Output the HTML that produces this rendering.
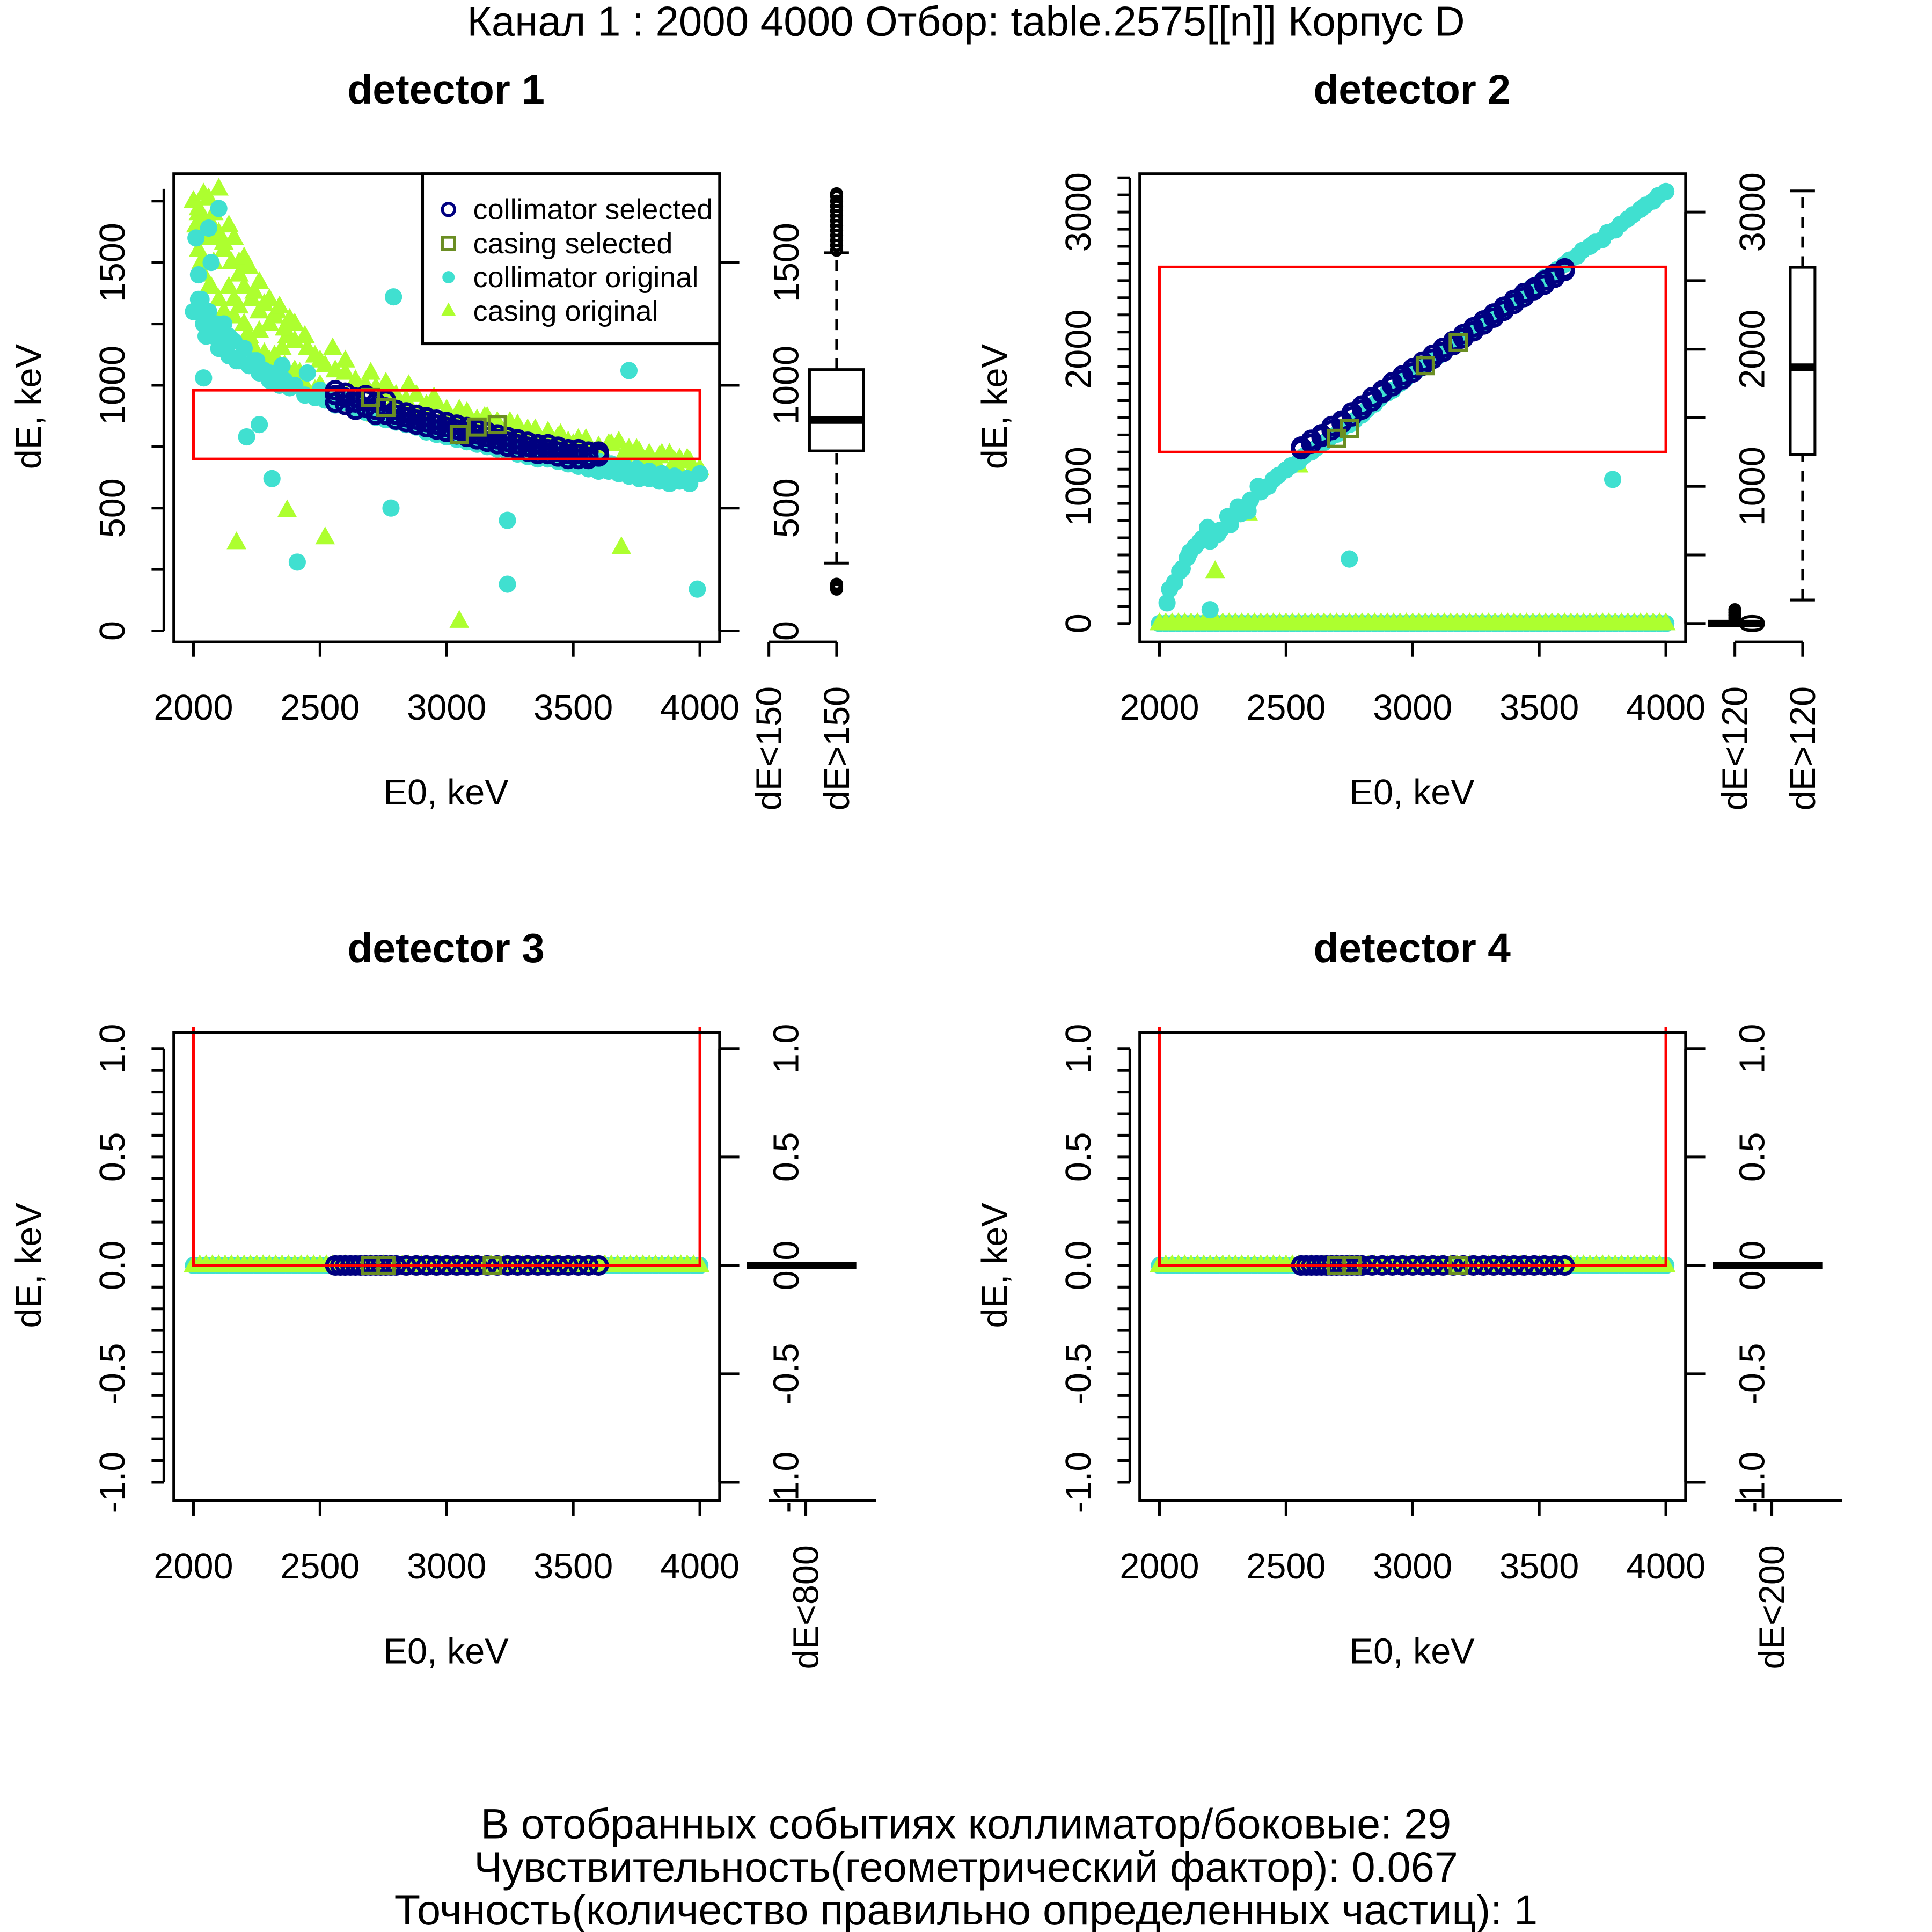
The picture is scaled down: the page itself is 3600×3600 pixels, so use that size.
<!DOCTYPE html>
<html><head><meta charset="utf-8"><style>
html,body{margin:0;padding:0;background:#fff}
svg{display:block}
text{font-family:"Liberation Sans","DejaVu Sans",sans-serif;fill:#000}
</style></head><body>
<svg id="c" width="3600" height="3600" viewBox="0 0 1568 1568" xmlns="http://www.w3.org/2000/svg"></svg>
<script>
// ---- data ----
const d1_casing_x=[2000,2010,2020,2040,2060,2080,2100,2120,2150,2180,2200,2230,2260,2300,2330,2370,2400,2450,2500,2550,2600,2650,2700,2750,2800,2850,2900,2950,3000,3050,3100,3150,3200,3250,3300,3350,3400,3450,3500,3550,3600,3650,3700,3750,3800,3850,3900,3950,4000,2030,2070,2110,2160,2210,2280,2350,2420,2500,2600,2700,2800,2900,3000,3100,3200,3300,3400,3500,3600,3700,3800,3900,3980,2170,2370,2520,3050,3690];
const d1_casing_y=[1750,1650,1700,1780,1600,1700,1800,1550,1500,1450,1400,1350,1300,1250,1300,1200,1250,1150,1100,1150,1050,1000,1050,980,950,1000,900,950,880,900,850,870,830,850,800,820,780,800,760,780,740,760,720,740,700,720,690,700,660,1500,1400,1600,1350,1200,1100,1150,1050,1000,950,900,880,850,820,800,780,760,740,720,700,690,680,670,640,360,490,380,40,340];
const band_x=[2020,2040,2060,2080,2100,2120,2140,2160,2180,2200,2220,2240,2260,2280,2300,2320,2340,2360,2380,2400,2440,2480,2520,2560,2600,2640,2680,2720,2760,2800,2840,2880,2920,2960,3000,3040,3080,3120,3160,3200,3240,3280,3320,3360,3400,3440,3480,3520,3560,3600,3640,3680,3720,3760,3800,3840,3880,3920,3960];
const d1_casing2_y=[1720,1680,1760,1640,1620,1580,1650,1600,1500,1520,1480,1380,1420,1330,1350,1280,1320,1230,1270,1180,1200,1120,1080,1060,1100,1020,1000,990,1010,960,940,960,920,930,900,880,890,860,870,850,830,840,820,800,810,790,770,780,760,750,760,770,740,730,720,710,720,700,690];
const d1_casing3_y=[1550,1450,1400,1500,1350,1300,1400,1280,1320,1250,1200,1150,1220,1130,1100,1120,1060,1080,1040,1060,1000,980,960,940,950,920,900,880,890,860,850,840,830,820,810,800,790,780,770,760,750,740,730,720,720,710,700,700,690,690,680,680,670,670,660,660,650,650,640];
const d1_coll_x=[2000,2010,2020,2030,2050,2070,2090,2110,2140,2170,2200,2250,2300,2350,2400,2450,2500,2550,2600,2650,2700,2750,2800,2850,2900,2950,3000,3050,3100,3150,3200,3250,3300,3350,3400,3450,3500,3550,3600,3650,3700,3750,3800,3850,3900,3950,4000,2040,2100,2210,2260,2310,2410,2790,2780,3240,3240,3720,3990,2060];
const d1_coll_y=[1300,1600,1450,1350,1200,1500,1250,1150,1200,1100,1150,1100,1050,1080,1000,1050,980,960,950,920,900,880,870,850,830,820,800,790,780,770,760,750,740,730,720,720,710,700,690,680,670,660,650,640,630,620,640,1030,1720,790,840,620,280,1360,500,450,190,1060,170,1640];
const d1_coll2_y=[1350,1250,1300,1200,1150,1250,1120,1180,1100,1150,1080,1100,1050,1060,1020,1040,1000,1020,990,1000,960,950,940,920,930,900,890,870,860,850,840,830,810,800,790,780,770,760,750,740,730,720,710,700,700,690,680,670,660,650,650,640,630,620,620,610,600,610,600];
const d1_sel_x=[2560,2600,2640,2680,2720,2760,2800,2840,2880,2920,2960,3000,3040,3080,3120,3160,3200,3240,3280,3320,3360,3400,3440,3480,3520,3560,3600];
const d1_sel_y=[960,950,930,940,900,910,880,870,860,850,840,830,820,810,800,790,780,770,760,750,740,740,730,720,720,710,720];
const d1_sel2_y=[930,920,900,910,880,880,860,850,840,830,820,810,800,790,780,770,760,750,740,730,720,720,710,700,700,700,710];
const d1_sel3_y=[980,970,950,960,930,940,900,890,880,870,860,850,840,830,820,810,800,790,780,770,760,760,750,740,740,730,730];
const d1_cas_sel_x=[2700,2760,3050,3120,3200];
const d1_cas_sel_y=[950,910,800,830,840];
const d1_box=[276,733,858,1064,1540];
const d1_box_out=[1550,1570,1590,1610,1630,1650,1670,1690,1710,1730,1750,1770,1780,170,180,190];

const d2_coll_x=[2030,2060,2090,2110,2140,2170,2200,2240,2280,2320,2360,2400,2450,2500,2550,2600,2650,2700,2750,2800,2850,2900,2950,3000,3050,3100,3150,3200,3250,3300,3350,3400,3450,3500,3550,3600,3650,3700,3750,3800,3850,3900,3950,4000,2200,2750,3790];
const d2_coll_y=[150,300,400,480,560,620,600,680,720,800,900,960,1050,1120,1180,1250,1320,1380,1450,1520,1600,1680,1750,1820,1880,1950,2020,2080,2150,2220,2280,2350,2420,2480,2550,2620,2680,2750,2800,2870,2950,3020,3080,3150,100,470,1050];
const d2_coll2_x=[2040,2080,2120,2160,2190,2230,2270,2310,2350,2390,2430,2470,2520,2570,2620,2670,2720,2770,2820,2870,2920,2970,3020,3070,3120,3170,3220,3270,3320,3370,3420,3470,3520,3570,3620,3670,3720,3770,3820,3870,3920,3970];
const d2_coll2_y=[250,380,520,600,700,650,780,850,820,1000,1000,1080,1150,1220,1280,1350,1420,1480,1560,1640,1700,1780,1850,1920,1990,2050,2120,2180,2250,2320,2380,2450,2520,2580,2650,2720,2780,2850,2910,2980,3050,3120];
const d2_casing_x=[2220,2350,2550];
const d2_casing_y=[380,800,1150];
const d2_sel_x=[2560,2600,2640,2680,2720,2760,2800,2840,2880,2920,2960,3000,3040,3080,3120,3160,3200,3240,3280,3320,3360,3400,3440,3480,3520,3560,3600];
const d2_sel_y=[1270,1310,1360,1410,1460,1510,1560,1620,1680,1730,1780,1830,1880,1930,1980,2030,2080,2130,2180,2230,2280,2330,2380,2430,2470,2520,2570];
const d2_sel2_y=[1290,1340,1380,1440,1480,1540,1590,1650,1700,1760,1810,1860,1910,1960,2010,2060,2110,2160,2210,2260,2310,2360,2410,2450,2500,2550,2590];
const d2_cas_sel_x=[2700,2750,3050,3180];
const d2_cas_sel_y=[1350,1420,1880,2050];
const d2_box=[171,1231,1869,2597,3154];
const d2_lowbox_out=[20,40,60,80,100];

const zero_x=[2000,2050,2100,2150,2200,2250,2300,2350,2400,2450,2500,2550,2600,2650,2700,2750,2800,2850,2900,2950,3000,3050,3100,3150,3200,3250,3300,3350,3400,3450,3500,3550,3600,3650,3700,3750,3800,3850,3900,3950,4000];
const zero2_x=[2025,2075,2125,2175,2225,2275,2325,2375,2425,2475,2525,2575,2625,2675,2725,2775,2825,2875,2925,2975,3025,3075,3125,3175,3225,3275,3325,3375,3425,3475,3525,3575,3625,3675,3725,3775,3825,3875,3925,3975];
const sel_zero_x=[2560,2580,2600,2620,2640,2660,2680,2700,2720,2740,2760,2780,2800,2840,2880,2920,2960,3000,3040,3080,3120,3160,3200,3240,3280,3320,3360,3400,3440,3480,3520,3560,3600];
const cas_sel_zero_x=[2700,2760,3180];
const xticks=[2000,2500,3000,3500,4000];

const NS='http://www.w3.org/2000/svg';
const svg=document.getElementById('c');
function mk(tag,attrs,parent){const e=document.createElementNS(NS,tag);for(const k in attrs)e.setAttribute(k,attrs[k]);(parent||svg).appendChild(e);return e;}
function txt(s,x,y,size,opts,parent){const e=mk('text',Object.assign({x:x,y:y,'font-size':size,'text-anchor':'middle'},opts||{}),parent);e.textContent=s;return e;}

let el;
el=txt('Канал 1 : 2000 4000 Отбор: table.2575[[n]] Корпус D',784,29,34);



const COL={sel:'#000080',cas:'#6B8E23',coll:'#40E0D0',caso:'#ADFF2F'};

function drawPoints(g,xs,ys,X,Y,kind){
  for(let i=0;i<xs.length;i++){
    const px=X(xs[i]),py=Y(ys[i]);
    let p;
    if(kind==='caso'){p=mk('polygon',{points:`${px},${py-9} ${px-8},${py+5.5} ${px+8},${py+5.5}`,fill:COL.caso},g);}
    else if(kind==='coll'){p=mk('circle',{cx:px,cy:py,r:7,fill:COL.coll},g);}
    else if(kind==='sel'){p=mk('circle',{cx:px,cy:py,r:6.8,fill:'none',stroke:COL.sel,'stroke-width':3},g);}
    else {p=mk('rect',{x:px-6.5,y:py-6.5,width:13,height:13,fill:'none',stroke:COL.cas,'stroke-width':2.6},g);}
    
    
  }
}

function panel(cfg){
  const g=mk('g',{});
  
  
  const L=cfg.ox+141,R=cfg.ox+584,T=cfg.oy+141,B=cfg.oy+521;
  const X=v=>cfg.ox+157+(v-2000)/2000*411;
  const Y=v=>cfg.oy+cfg.y0-(v-cfg.ymin)*cfg.k;
  let t=txt(cfg.title,cfg.ox+362,cfg.oy+84,33.5,{'font-weight':'bold'},g);
  
  
  const pts=mk('g',{},g);
  
  
  cfg.series.forEach(s=>drawPoints(pts,s[0],s[1],X,Y,s[2]));
  const rr=mk('path',{d:cfg.redPath(X,Y),fill:'none',stroke:'#ff0000','stroke-width':2.2},g);
  
  
  const bx=mk('rect',{x:L,y:T,width:R-L,height:B-T,fill:'none',stroke:'#000','stroke-width':2.2},g);
  
  
  const xa=mk('g',{},g);
  
  
  mk('line',{x1:X(2000),x2:X(4000),y1:B,y2:B,stroke:'#000','stroke-width':2.2},xa);
  xticks.forEach(v=>{mk('line',{x1:X(v),x2:X(v),y1:B,y2:B+12,stroke:'#000','stroke-width':2.2},xa);
    const tl=txt(String(v),X(v),cfg.oy+584,29,{},xa);
    
    });
  t=txt('E0, keV',cfg.ox+362,cfg.oy+653,29,{},g);
  
  
  t=txt('dE, keV',cfg.ox+33,cfg.oy+330,29,{transform:`rotate(-90 ${cfg.ox+33} ${cfg.oy+330})`},g);
  
  
  const ya=mk('g',{},g);
  
  
  const ylo=cfg.ymin;
  mk('line',{x1:L-8,x2:L-8,y1:Y(ylo),y2:Y(cfg.minorTop),stroke:'#000','stroke-width':2.2},ya);
  for(let i=0;;i++){const v=ylo+i*cfg.minor; if(v>cfg.minorTop+1e-9)break;
    mk('line',{x1:L-8,x2:L-18,y1:Y(v),y2:Y(v),stroke:'#000','stroke-width':2.2},ya);}
  cfg.labels.forEach(v=>{const yy=Y(v);
    const tl=txt(cfg.fmt(v),cfg.ox+101,yy,29,{transform:`rotate(-90 ${cfg.ox+101} ${yy})`},ya);
    
    });
  const ra=mk('g',{},g);
  
  
  mk('line',{x1:R,x2:R,y1:Y(ylo),y2:Y(cfg.rightTop),stroke:'#000','stroke-width':2.2},ra);
  cfg.rticks.forEach(v=>mk('line',{x1:R,x2:R+16,y1:Y(v),y2:Y(v),stroke:'#000','stroke-width':2.2},ra));
  cfg.labels.forEach(v=>{const yy=Y(v);
    const tl=txt(cfg.fmt(v),cfg.ox+648,yy,29,{transform:`rotate(-90 ${cfg.ox+648} ${yy})`},ra);
    
    });
  const bp=mk('g',{},g);
  
  
  cfg.side(bp,Y,cfg.ox,cfg.oy);
  return {X,Y,g};
}

function boxplot(g,cx,hw,st,Y,outs){
  mk('line',{x1:cx,x2:cx,y1:Y(st[0]),y2:Y(st[1]),stroke:'#000','stroke-width':2.2,'stroke-dasharray':'9,7'},g);
  mk('line',{x1:cx,x2:cx,y1:Y(st[3]),y2:Y(st[4]),stroke:'#000','stroke-width':2.2,'stroke-dasharray':'9,7'},g);
  mk('line',{x1:cx-10,x2:cx+10,y1:Y(st[0]),y2:Y(st[0]),stroke:'#000','stroke-width':2.2},g);
  mk('line',{x1:cx-10,x2:cx+10,y1:Y(st[4]),y2:Y(st[4]),stroke:'#000','stroke-width':2.2},g);
  const b=mk('rect',{x:cx-hw,y:Y(st[3]),width:2*hw,height:Y(st[1])-Y(st[3]),fill:'#fff',stroke:'#000','stroke-width':2.2},g);
  
  
  mk('line',{x1:cx-hw,x2:cx+hw,y1:Y(st[2]),y2:Y(st[2]),stroke:'#000','stroke-width':6},g);
  (outs||[]).forEach(v=>mk('circle',{cx:cx,cy:Y(v),r:4,fill:'none',stroke:'#000','stroke-width':2.6},g));
}
function sideAxis(g,x1,x2,y,tickXs,labels){
  mk('line',{x1:x1,x2:x2,y1:y,y2:y,stroke:'#000','stroke-width':2.2},g);
  tickXs.forEach(x=>mk('line',{x1:x,x2:x,y1:y,y2:y+12,stroke:'#000','stroke-width':2.2},g));
  labels.forEach(l=>{const tl=txt(l[0],l[1]+10,y+36,29,{'text-anchor':'end',transform:`rotate(-90 ${l[1]+10} ${y+36})`},g);
    
    });
}

panel({name:'detector-1-panel',title:'detector 1',ox:0,oy:0,y0:512,ymin:0,ymax:1800,k:0.1993,minor:250,minorTop:1800,
  labels:[0,500,1000,1500],rticks:[0,500,1000,1500],rightTop:1500,fmt:v=>String(v),
  series:[[d1_casing_x,d1_casing_y,'caso'],[band_x,d1_casing2_y,'caso'],[band_x,d1_casing3_y,'caso'],[d1_coll_x,d1_coll_y,'coll'],[band_x,d1_coll2_y,'coll'],
    [d1_sel_x,d1_sel_y,'sel'],[d1_sel_x,d1_sel2_y,'sel'],[d1_sel_x,d1_sel3_y,'sel'],[d1_cas_sel_x,d1_cas_sel_y,'cas']],
  redPath:(X,Y)=>`M${X(2000)},${Y(980)}H${X(4000)}V${Y(700)}H${X(2000)}Z`,
  side:(g,Y)=>{boxplot(g,679,22,d1_box,Y,d1_box_out);sideAxis(g,624,679,521,[624,679],[['dE<150',624],['dE>150',679]]);}
});
const lg=mk('g',{});


mk('rect',{x:343,y:141,width:241,height:138,fill:'#fff',stroke:'#000','stroke-width':2.2},lg);
[['collimator selected','sel'],['casing selected','cas'],['collimator original','coll'],['casing original','caso']].forEach((e,i)=>{
  const y=170+i*27.5;
  const le=mk('g',{},lg);
  
  
  if(e[1]==='sel')mk('circle',{cx:364,cy:y,r:5,fill:'none',stroke:COL.sel,'stroke-width':2.4},le);
  if(e[1]==='cas')mk('rect',{x:359,y:y-5,width:10,height:10,fill:'none',stroke:COL.cas,'stroke-width':2.4},le);
  if(e[1]==='coll')mk('circle',{cx:364,cy:y,r:5,fill:COL.coll},le);
  if(e[1]==='caso')mk('polygon',{points:`364,${y-7} 358,${y+4} 370,${y+4}`,fill:COL.caso},le);
  txt(e[0],384,y+8,23.5,{'text-anchor':'start'},le);
});

const zeros=zero_x.map(()=>0);
const zeros2=zero2_x.map(()=>0);
const selZeros=sel_zero_x.map(()=>0);
const casSelZeros=cas_sel_zero_x.map(()=>0);
panel({name:'detector-2-panel',title:'detector 2',ox:784,oy:0,y0:506,ymin:0,ymax:3300,k:0.1113,minor:125,minorTop:3250,
  labels:[0,1000,2000,3000],rticks:[0,500,1000,1500,2000,2500,3000],rightTop:3000,fmt:v=>String(v),
  series:[[zero_x,zeros,'coll'],[zero2_x,zeros2,'coll'],[zero_x,zeros,'caso'],[zero2_x,zeros2,'caso'],[d2_casing_x,d2_casing_y,'caso'],[d2_coll_x,d2_coll_y,'coll'],[d2_coll2_x,d2_coll2_y,'coll'],
    [d2_sel_x,d2_sel_y,'sel'],[d2_sel_x,d2_sel2_y,'sel'],[d2_cas_sel_x,d2_cas_sel_y,'cas']],
  redPath:(X,Y)=>`M${X(2000)},${Y(2600)}H${X(4000)}V${Y(1250)}H${X(2000)}Z`,
  side:(g,Y)=>{boxplot(g,1463,10,d2_box,Y,[]);
    mk('line',{x1:1386,x2:1430,y1:Y(0),y2:Y(0),stroke:'#000','stroke-width':6},g);
    d2_lowbox_out.forEach(v=>mk('circle',{cx:1408,cy:Y(v),r:4,fill:'none',stroke:'#000','stroke-width':2.6},g));
    sideAxis(g,1408,1463,521,[1408,1463],[['dE<120',1408],['dE>120',1463]]);}
});

[[0,'detector-3-panel','detector 3','dE<800'],[784,'detector-4-panel','detector 4','dE<200']].forEach(d=>{
  panel({name:d[1],title:d[2],ox:d[0],oy:697,y0:506,ymin:-1,ymax:1,k:176,minor:0.1,minorTop:1.0,
    labels:[-1,-0.5,0,0.5,1],rticks:[-1,-0.5,0,0.5,1],rightTop:1,fmt:v=>v.toFixed(1),
    series:[[zero_x,zeros,'coll'],[zero2_x,zeros2,'coll'],[zero_x,zeros,'caso'],[zero2_x,zeros2,'caso'],[sel_zero_x,selZeros,'sel'],[cas_sel_zero_x,casSelZeros,'cas']],
    redPath:(X,Y)=>`M${X(2000)},${Y(1.1)}V${Y(0)}H${X(4000)}V${Y(1.1)}`,
    side:(g,Y,ox)=>{mk('line',{x1:ox+606,x2:ox+695,y1:Y(0),y2:Y(0),stroke:'#000','stroke-width':6},g);
      sideAxis(g,ox+624,ox+711,1218,[ox+654],[[d[3],ox+654]]);}
  });
});

[['В отобранных событиях коллиматор/боковые: 29',1492],['Чувствительность(геометрический фактор): 0.067',1527],['Точность(количество правильно определенных частиц): 1',1562]].forEach(l=>{
  const t=txt(l[0],784,l[1],34.5);
  
  
});
</script>
</body></html>
